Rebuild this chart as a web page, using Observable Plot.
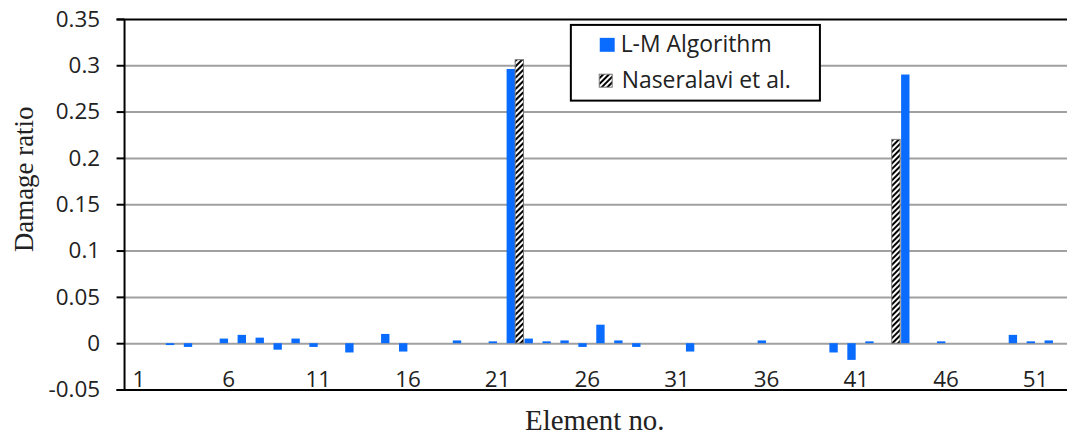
<!DOCTYPE html>
<html>
<head>
<meta charset="utf-8">
<script src="https://cdn.jsdelivr.net/npm/d3@7"></script>
<script src="https://cdn.jsdelivr.net/npm/@observablehq/plot@0.6"></script>
<style>
html, body { margin: 0; padding: 0; background: #fff; overflow: hidden; }
</style>
</head>
<body>
<div id="chart"></div>
<script>
// ---- Data ----
const elements = [1,2,3,4,5,6,7,8,9,10,11,12,13,14,15,16,17,18,19,20,21,22,23,24,25,26,
  27,28,29,30,31,32,33,34,35,36,37,38,39,40,41,42,43,44,45,46,47,48,49,50,51,52];
const lmValues = [0,0,-0.002,-0.004,0,0.005,0.009,0.006,-0.007,0.005,-0.004,0,-0.010,0,0.010,-0.009,
  0,0,0.003,0,0.002,0.296,0.005,0.002,0.003,-0.004,0.020,0.003,-0.004,0,0,-0.009,
  0,0,0,0.003,0,0,0,-0.010,-0.018,0.002,0,0.290,0,0.002,0,0,0,0.009,0.002,0.003];
const naseralaviValues = [0,0,0,0,0,0,0,0,0,0,0,0,0,0,0,0,0,0,0,0,0,0.306,0,0,0,0,
  0,0,0,0,0,0,0,0,0,0,0,0,0,0,0,0,0.220,0,0,0,0,0,0,0,0,0];
const seriesNames = ["L-M Algorithm", "Naseralavi et al."];
const xTickLabels = [1,6,11,16,21,26,31,36,41,46,51];
const yTicks = [-0.05,0,0.05,0.1,0.15,0.2,0.25,0.3,0.35];
const yTickLabels = ["-0.05","0","0.05","0.1","0.15","0.2","0.25","0.3","0.35"];
const gridValues = [0,0.05,0.1,0.15,0.2,0.25,0.3];
const xTitle = "Element no.";
const yTitle = "Damage ratio";

// ---- Layout ----
const W = 1071, H = 441, mL = 125, mR = 0, mT = 19, mB = 50;
const bw = (W - mL - mR) / elements.length;
const blue = "#0a6cff";
const sansFont = "'Open Sans', sans-serif";
const serifFont = "'Liberation Serif', 'Times New Roman', serif";

const lm = elements.map((e, i) => ({element: e, value: lmValues[i], series: seriesNames[0]}));
const ns = elements.map((e, i) => ({element: e, value: naseralaviValues[i], series: seriesNames[1]}))
  .filter(d => d.value !== 0);

const defs = () => {
  const d = d3.create("svg:defs");
  const p = d.append("pattern").attr("id", "hatch").attr("patternUnits", "userSpaceOnUse")
    .attr("width", 4).attr("height", 4).attr("patternTransform", "rotate(45)");
  p.append("rect").attr("width", 4).attr("height", 4).attr("fill", "#fff");
  p.append("rect").attr("width", 2).attr("height", 4).attr("fill", "#000");
  return d.node();
};

const plot = Plot.plot({
  width: W, height: H,
  marginLeft: mL, marginRight: mR, marginTop: mT, marginBottom: mB,
  style: {fontFamily: sansFont, fontSize: "22px", color: "#222", background: "#fff", overflow: "visible"},
  x: {type: "band", domain: elements, padding: 0, axis: null},
  y: {domain: [-0.05, 0.35], axis: null},
  marks: [
    defs,
    Plot.ruleY(gridValues, {stroke: "#a0a0a0", strokeWidth: 2}),
    Plot.barY(lm, {x: "element", y: "value", fill: blue, insetLeft: 0.5, insetRight: bw / 2}),
    Plot.barY(ns, {x: "element", y: "value", fill: "url(#hatch)", stroke: "#777", strokeWidth: 1,
      insetLeft: bw / 2, insetRight: 0.5}),
    Plot.ruleY([-0.05, 0.35], {stroke: "#000", strokeWidth: 2, insetLeft: -8}),
    Plot.axisY({ticks: yTicks, tickFormat: d => yTickLabels[yTicks.indexOf(d)], tickSize: 8,
      tickPadding: 17, stroke: "#000", strokeWidth: 2, fill: "#222", fontSize: 22.5, label: null, anchor: "left"}),
    Plot.text(xTickLabels, {x: d => d, y: () => -0.05, dy: -10, fontSize: 22.5, fill: "#222"})
  ]
});

const svg = d3.select(plot);
// y axis line
svg.append("line").attr("x1", mL).attr("x2", mL).attr("y1", mT).attr("y2", H - mB)
  .attr("stroke", "#000").attr("stroke-width", 2);

// axis titles
svg.append("text").attr("transform", "translate(24,180) rotate(-90)")
  .attr("text-anchor", "middle").attr("dy", "0.32em")
  .attr("font-family", serifFont).attr("font-size", 27).attr("fill", "#222").text(yTitle);
svg.append("text").attr("x", 597).attr("y", 432)
  .attr("text-anchor", "middle")
  .attr("font-family", serifFont).attr("font-size", 29).attr("fill", "#222").text(xTitle);

// legend
const lg = svg.append("g").attr("font-family", sansFont).attr("font-size", 23).attr("fill", "#222")
  .attr("text-anchor", "start");
lg.append("rect").attr("x", 573).attr("y", 25).attr("width", 250).attr("height", 76)
  .attr("fill", "#fff").attr("stroke", "#000").attr("stroke-width", 2);
lg.append("rect").attr("x", 602).attr("y", 38).attr("width", 15).attr("height", 14).attr("fill", blue);
lg.append("text").attr("x", 623).attr("y", 52).text(seriesNames[0]);
lg.append("rect").attr("x", 601.5).attr("y", 74.5).attr("width", 13).attr("height", 13)
  .attr("fill", "url(#hatch)").attr("stroke", "#777").attr("stroke-width", 1);
lg.append("text").attr("x", 624).attr("y", 88).text(seriesNames[1]);

document.getElementById("chart").appendChild(plot);
</script>
</body>
</html>
